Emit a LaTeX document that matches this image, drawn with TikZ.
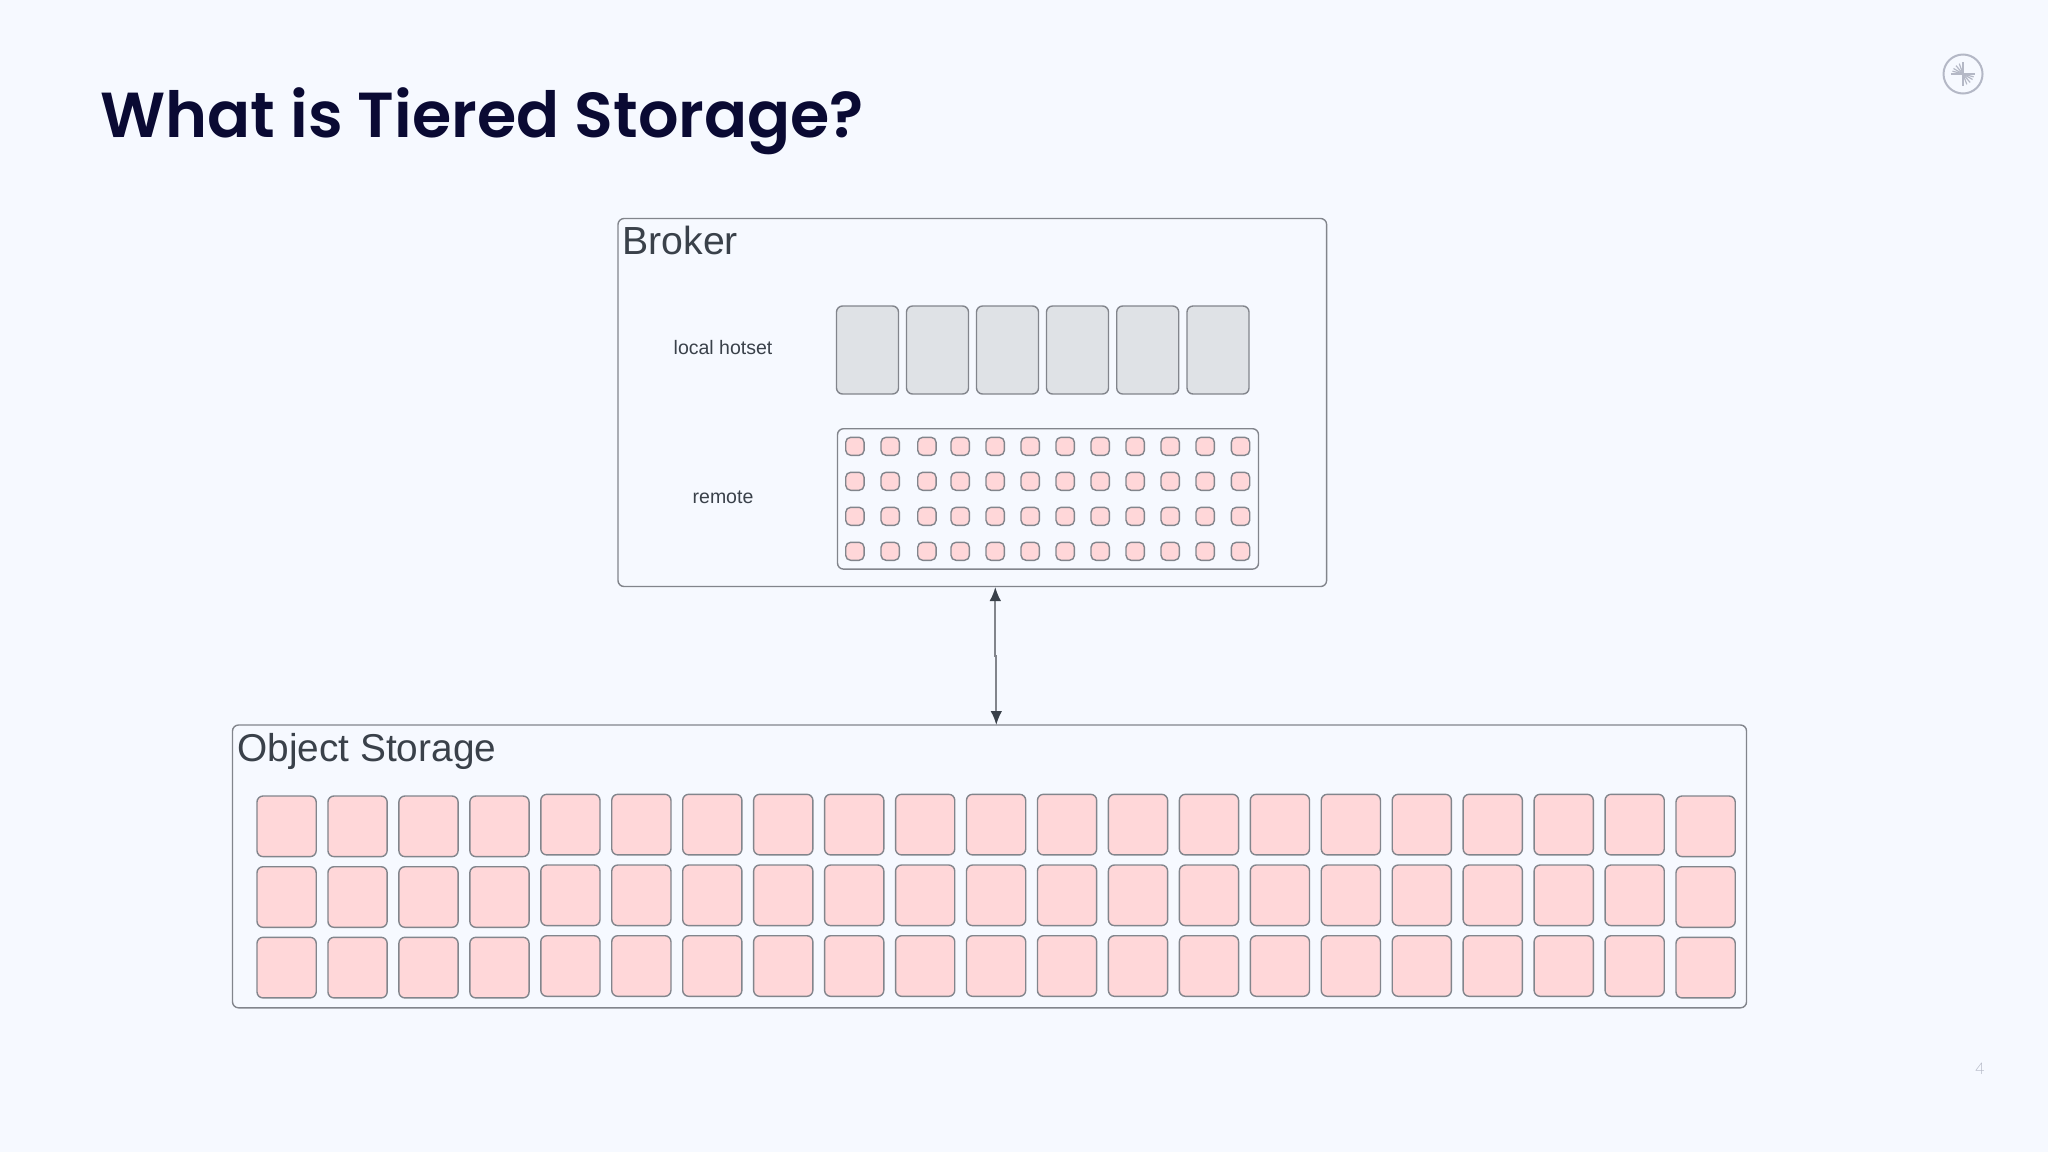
\documentclass[tikz,border=0pt]{standalone}
\usepackage{fontspec}
\usetikzlibrary{arrows.meta}
\setmainfont{Liberation Sans}
\newfontfamily\titlefont{Poppins SemiBold}
\newfontfamily\numfont{Lato Light}
\definecolor{bgc}{HTML}{F6F9FF}
\definecolor{edgec}{HTML}{82858C}
\definecolor{pinkc}{HTML}{FFD7D9}
\definecolor{grayc}{HTML}{DFE2E6}
\definecolor{textc}{HTML}{3A414A}
\definecolor{titlec}{HTML}{0A0A33}
\definecolor{logoc}{HTML}{B4B8C6}
\tikzset{
  x=0.5pt,y=-0.5pt,
  boxn/.style={draw=edgec,line width=0.7pt,rounded corners=3pt,inner sep=0pt,outer sep=0pt,anchor=north west},
  container/.style={boxn,fill=bgc},
  hot/.style={boxn,fill=grayc,minimum width=31pt,minimum height=44pt},
  objcell/.style={boxn,fill=pinkc,minimum width=29.6pt,minimum height=30.3pt},
  smallcell/.style={boxn,fill=pinkc,line width=0.7pt,rounded corners=2.5pt,minimum width=9.2pt,minimum height=9pt},
  heading/.style={text=textc,inner sep=0pt,anchor=base west},
  tag/.style={text=textc,font=\fontsize{9.75pt}{12pt}\selectfont,inner sep=0pt},
  link/.style={draw=edgec,line width=0.9pt},
  linktips/.style={{Latex[length=7pt,width=5.8pt,color=textc]}-{Latex[length=7pt,width=5.8pt,color=textc]}},
}
\begin{document}
\begin{tikzpicture}
\useasboundingbox (0,0) rectangle (2048,1152);
\fill[bgc] (0,0) rectangle (2048,1152);
\node[anchor=base west,inner sep=0pt,text=titlec,font=\titlefont\fontsize{31.8pt}{38pt}\selectfont] (title) at (100,137) {What is Tiered Storage?};
% logo
\node[draw=logoc,line width=1pt,circle,minimum size=19.5pt,inner sep=0pt] (logo) at (1963,74) {};
\foreach \a/\l in {0/12,180/12,90/12,270/12,195/11,210/11,230/11,250/11,15/11,30/11,50/11,70/11}{
  \draw[logoc,line width=0.6pt] (logo.center) -- ++(\a:\l);
}
\node[anchor=base,inner sep=0pt,text=logoc,font=\numfont\fontsize{8pt}{9pt}\selectfont] (pagenum) at (1980,1074) {4};
% broker
\node[container,minimum width=354.3pt,minimum height=184pt] (broker) at (618,218.5) {};
\node[heading,font=\fontsize{19.6pt}{24pt}\selectfont] (brokerlabel) at (622,254) {Broker};
\node[tag] (hotlabel) at (723,347.5) {local hotset};
\node[tag] (remotelabel) at (723,497) {remote};
\foreach \x [count=\i] in {836.5,906.5,976.5,1046.5,1116.7,1187}{
  \node[hot] (h\i) at (\x,306) {};
}
\node[container,minimum width=210.5pt,minimum height=70.2pt] (remotebox) at (837.5,428.7) {};
\foreach \y [count=\r] in {437.3,472.3,507.3,542.3}{
  \foreach \x [count=\c] in {845.7,881,917.7,951,986,1021,1056,1091,1126,1161,1196,1231.3}{
    \node[smallcell] (s\r-\c) at (\x,\y) {};
  }
}
% object storage
\node[container,minimum width=757pt,minimum height=141.4pt] (objstore) at (232.5,725) {};
\node[heading,font=\fontsize{19.4pt}{24pt}\selectfont] (objlabel) at (237,761) {Object Storage};
\foreach \y/\yb [count=\r] in {796/794.3,866.7/865,937.3/935.7}{
  \foreach \c in {0,...,20}{
    \pgfmathsetmacro{\xx}{257+70.95*\c}
    \pgfmathsetmacro{\yy}{(\c<4||\c==20)?\y:\yb}
    \node[objcell] (o\r-\c) at (\xx,\yy) {};
  }
}
% connector
\coordinate (atop) at (995.3,587);
\coordinate (amida) at (995.3,656);
\coordinate (amidb) at (996.3,656);
\coordinate (abot) at (996.3,725);
\draw[link,linktips] (atop) -- (amida) -- (amidb) -- (abot);
\end{tikzpicture}
\end{document}
